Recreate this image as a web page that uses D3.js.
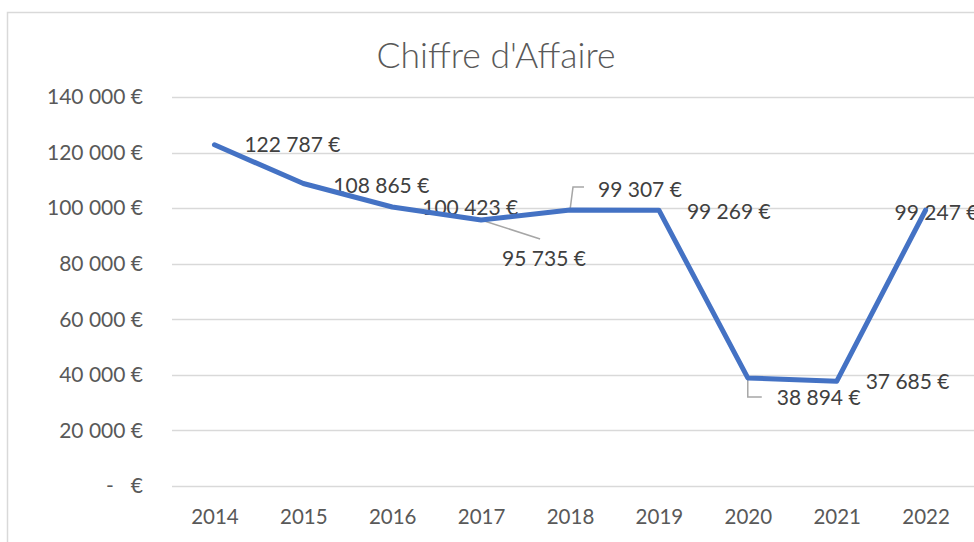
<!DOCTYPE html>
<html>
<head>
<meta charset="utf-8">
<script src="https://cdn.jsdelivr.net/npm/d3@7"></script>
<style>
  html, body { margin: 0; padding: 0; background: #fff; }
  svg { display: block; font-family: Lato, "Open Sans", sans-serif; }
</style>
</head>
<body>
<svg id="chart" width="974" height="542"></svg>
<script>
// ---- data ----
const years = ["2014", "2015", "2016", "2017", "2018", "2019", "2020", "2021", "2022"];
const revenue = [122787, 108865, 100423, 95735, 99307, 99269, 38894, 37685, 99247];
const yTicks = [0, 20000, 40000, 60000, 80000, 100000, 120000, 140000];
const title = "Chiffre d'Affaire";

// label placement (offset from point, px) and leader-line style
const labelOffsets = [
  { dx: 30, dy: 7 }, { dx: 30, dy: 9 }, { dx: 30, dy: 8 },
  { dx: 21, dy: 46, leader: "diag" }, { dx: 28, dy: -13, leader: "up" },
  { dx: 28, dy: 9 }, { dx: 29, dy: 27, leader: "down" },
  { dx: 29, dy: 8 }, { dx: -31, dy: 10 }
];

const svg = d3.select("#chart");

// chart area border
svg.append("rect").attr("x", 7.5).attr("y", 12.5).attr("width", 1000).attr("height", 600)
  .attr("fill", "#fff").attr("stroke", "#d9d9d9").attr("stroke-width", 1.5);

const x = d3.scalePoint().domain(years).range([170, 970]).padding(0.5);
const y = d3.scaleLinear().domain([0, 140000]).range([486, 97]);

// title
svg.append("text").attr("x", 496).attr("y", 68).attr("text-anchor", "middle")
  .attr("font-size", 35.5).attr("font-weight", 300).attr("fill", "#595959").text(title);

// gridlines
svg.append("g").selectAll("line").data(yTicks).join("line")
  .attr("x1", 172).attr("x2", 974)
  .attr("y1", d => Math.round(y(d)) + 0.5).attr("y2", d => Math.round(y(d)) + 0.5)
  .attr("stroke", "#d9d9d9").attr("stroke-width", 1.5);

// y axis labels
const fmt = d => d3.format(",")(d).replace(/,/g, "\u00a0");
const yAxis = d3.axisLeft(y).tickValues(yTicks).tickSize(0).tickPadding(0)
  .tickFormat(d => d === 0 ? "€" : fmt(d) + "\u00a0€");
const gy = svg.append("g").attr("transform", "translate(143,0)").call(yAxis);
gy.select(".domain").remove();
gy.selectAll("text").attr("font-size", 21).attr("fill", "#595959")
  .attr("font-family", "Lato, sans-serif");
// accounting-style dash for zero
svg.append("text").attr("x", 110).attr("y", y(0)).attr("dy", "0.32em")
  .attr("text-anchor", "middle").attr("font-size", 21).attr("fill", "#595959").text("-");

// x axis labels
const xAxis = d3.axisBottom(x).tickSize(0).tickPadding(0);
const gx = svg.append("g").attr("transform", "translate(0,509)").call(xAxis);
gx.select(".domain").remove();
gx.selectAll("text").attr("font-size", 20.5).attr("fill", "#595959")
  .attr("font-family", "Lato, sans-serif");

// data labels
const pts = years.map((yr, i) => ({ px: x(yr), py: y(revenue[i]), v: revenue[i], o: labelOffsets[i] }));
svg.append("g").selectAll("text").data(pts).join("text")
  .attr("x", d => d.px + d.o.dx).attr("y", d => d.py + d.o.dy)
  .attr("font-size", 21).attr("fill", "#404040")
  .text(d => fmt(d.v) + "\u00a0€");

// leader lines
const leaders = svg.append("g").attr("fill", "none").attr("stroke", "#a6a6a6").attr("stroke-width", 1.5);
pts.forEach(d => {
  const lx = d.px + d.o.dx, ly = d.py + d.o.dy;
  let p = null;
  if (d.o.leader === "diag") p = [[d.px, d.py], [lx + 38, ly - 27]];
  if (d.o.leader === "up") p = [[d.px, d.py], [d.px + 3, ly - 10], [d.px + 14, ly - 10]];
  if (d.o.leader === "down") p = [[d.px, d.py], [d.px, ly - 8], [d.px + 14, ly - 8]];
  if (p) leaders.append("path").attr("d", d3.line()(p));
});

// series line
svg.append("path").datum(pts)
  .attr("fill", "none").attr("stroke", "#4472C4").attr("stroke-width", 5)
  .attr("stroke-linejoin", "round").attr("stroke-linecap", "round")
  .attr("d", d3.line().x(d => d.px).y(d => d.py));
</script>
</body>
</html>
